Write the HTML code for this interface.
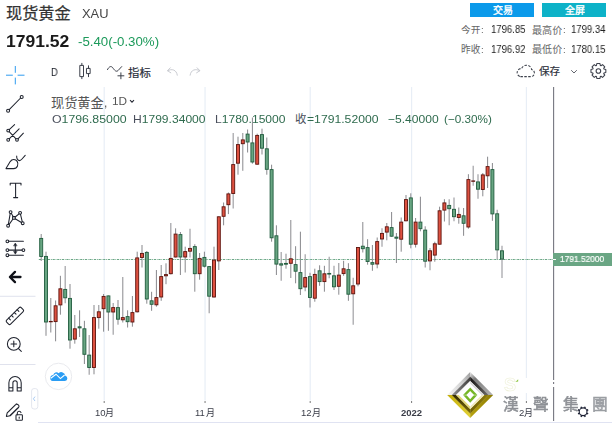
<!DOCTYPE html>
<html><head><meta charset="utf-8"><title>XAU chart</title>
<style>
html,body{margin:0;padding:0;background:#fff}
body{width:612px;height:423px;position:relative;overflow:hidden;font-family:"Liberation Sans","Noto Sans CJK SC",sans-serif}
.a{position:absolute;display:block}
.t{white-space:nowrap;transform-origin:0 50%;will-change:transform}
svg text{font-family:"Liberation Sans","Noto Sans CJK SC",sans-serif}
</style></head><body>
<svg class="a" style="left:0;top:0" width="612" height="423" viewBox="0 0 612 423"><line x1="104.2" y1="87" x2="104.2" y2="400.5" stroke="#e8eef6" stroke-width="1.2"/><line x1="104.2" y1="401" x2="104.2" y2="403" stroke="#555" stroke-width="0.8"/><line x1="205.05" y1="87" x2="205.05" y2="400.5" stroke="#e8eef6" stroke-width="1.2"/><line x1="205.05" y1="401" x2="205.05" y2="403" stroke="#555" stroke-width="0.8"/><line x1="310.2" y1="87" x2="310.2" y2="400.5" stroke="#e8eef6" stroke-width="1.2"/><line x1="310.2" y1="401" x2="310.2" y2="403" stroke="#555" stroke-width="0.8"/><line x1="411.6" y1="87" x2="411.6" y2="400.5" stroke="#e8eef6" stroke-width="1.2"/><line x1="411.6" y1="401" x2="411.6" y2="403" stroke="#555" stroke-width="0.8"/><line x1="526.4" y1="87" x2="526.4" y2="400.5" stroke="#e8eef6" stroke-width="1.2"/><line x1="526.4" y1="401" x2="526.4" y2="403" stroke="#555" stroke-width="0.8"/><line x1="38.8" y1="259.5" x2="553" y2="259.5" stroke="#5a9d78" stroke-width="0.9" stroke-dasharray="2.2 0.8 0.8 0.8"/><line x1="41.2" y1="234.0" x2="41.2" y2="261.0" stroke="#727277" stroke-width="0.85"/><line x1="46.0" y1="251.7" x2="46.0" y2="335.8" stroke="#727277" stroke-width="0.85"/><line x1="50.8" y1="298.0" x2="50.8" y2="332.5" stroke="#727277" stroke-width="0.85"/><line x1="55.6" y1="300.5" x2="55.6" y2="341.3" stroke="#727277" stroke-width="0.85"/><line x1="60.4" y1="275.8" x2="60.4" y2="314.7" stroke="#727277" stroke-width="0.85"/><line x1="65.2" y1="266.0" x2="65.2" y2="303.3" stroke="#a4a4a8" stroke-width="1.25"/><line x1="70.0" y1="284.0" x2="70.0" y2="348.7" stroke="#727277" stroke-width="0.85"/><line x1="74.8" y1="315.0" x2="74.8" y2="343.7" stroke="#727277" stroke-width="0.85"/><line x1="79.6" y1="310.3" x2="79.6" y2="337.0" stroke="#727277" stroke-width="0.85"/><line x1="84.4" y1="320.8" x2="84.4" y2="364.0" stroke="#727277" stroke-width="0.85"/><line x1="89.2" y1="335.0" x2="89.2" y2="374.7" stroke="#a4a4a8" stroke-width="1.25"/><line x1="94.0" y1="305.0" x2="94.0" y2="374.3" stroke="#727277" stroke-width="0.85"/><line x1="98.8" y1="305.0" x2="98.8" y2="328.7" stroke="#727277" stroke-width="0.85"/><line x1="103.6" y1="294.0" x2="103.6" y2="331.7" stroke="#727277" stroke-width="0.85"/><line x1="108.4" y1="295.5" x2="108.4" y2="330.8" stroke="#727277" stroke-width="0.85"/><line x1="113.2" y1="303.0" x2="113.2" y2="334.7" stroke="#a4a4a8" stroke-width="1.25"/><line x1="118.0" y1="300.0" x2="118.0" y2="324.7" stroke="#727277" stroke-width="0.85"/><line x1="122.8" y1="277.0" x2="122.8" y2="322.5" stroke="#727277" stroke-width="0.85"/><line x1="127.6" y1="310.3" x2="127.6" y2="327.5" stroke="#727277" stroke-width="0.85"/><line x1="132.4" y1="296.0" x2="132.4" y2="326.7" stroke="#727277" stroke-width="0.85"/><line x1="137.2" y1="251.7" x2="137.2" y2="312.5" stroke="#727277" stroke-width="0.85"/><line x1="142.0" y1="245.0" x2="142.0" y2="267.5" stroke="#727277" stroke-width="0.85"/><line x1="146.8" y1="251.0" x2="146.8" y2="303.7" stroke="#727277" stroke-width="0.85"/><line x1="151.6" y1="291.8" x2="151.6" y2="310.8" stroke="#727277" stroke-width="0.85"/><line x1="156.4" y1="270.0" x2="156.4" y2="306.7" stroke="#727277" stroke-width="0.85"/><line x1="161.2" y1="265.0" x2="161.2" y2="300.8" stroke="#727277" stroke-width="0.85"/><line x1="166.0" y1="263.3" x2="166.0" y2="284.2" stroke="#727277" stroke-width="0.85"/><line x1="170.8" y1="223.0" x2="170.8" y2="274.5" stroke="#a4a4a8" stroke-width="1.25"/><line x1="175.6" y1="228.3" x2="175.6" y2="257.5" stroke="#727277" stroke-width="0.85"/><line x1="180.4" y1="232.0" x2="180.4" y2="275.0" stroke="#727277" stroke-width="0.85"/><line x1="185.2" y1="246.7" x2="185.2" y2="272.5" stroke="#727277" stroke-width="0.85"/><line x1="190.0" y1="228.7" x2="190.0" y2="257.5" stroke="#a4a4a8" stroke-width="1.25"/><line x1="194.8" y1="244.2" x2="194.8" y2="291.7" stroke="#727277" stroke-width="0.85"/><line x1="199.6" y1="253.0" x2="199.6" y2="279.7" stroke="#727277" stroke-width="0.85"/><line x1="204.4" y1="251.7" x2="204.4" y2="267.5" stroke="#727277" stroke-width="0.85"/><line x1="209.2" y1="266.0" x2="209.2" y2="313.3" stroke="#a4a4a8" stroke-width="1.25"/><line x1="214.0" y1="246.7" x2="214.0" y2="297.5" stroke="#727277" stroke-width="0.85"/><line x1="218.8" y1="216.3" x2="218.8" y2="270.0" stroke="#727277" stroke-width="0.85"/><line x1="223.6" y1="202.5" x2="223.6" y2="225.3" stroke="#727277" stroke-width="0.85"/><line x1="228.4" y1="192.5" x2="228.4" y2="214.1" stroke="#727277" stroke-width="0.85"/><line x1="233.2" y1="133.0" x2="233.2" y2="208.5" stroke="#a4a4a8" stroke-width="1.25"/><line x1="238.0" y1="136.7" x2="238.0" y2="174.7" stroke="#727277" stroke-width="0.85"/><line x1="242.8" y1="133.0" x2="242.8" y2="170.8" stroke="#727277" stroke-width="0.85"/><line x1="247.6" y1="129.5" x2="247.6" y2="152.5" stroke="#727277" stroke-width="0.85"/><line x1="252.4" y1="117.5" x2="252.4" y2="163.7" stroke="#727277" stroke-width="0.85"/><line x1="257.2" y1="133.7" x2="257.2" y2="164.7" stroke="#727277" stroke-width="0.85"/><line x1="262.0" y1="128.7" x2="262.0" y2="154.5" stroke="#727277" stroke-width="0.85"/><line x1="266.8" y1="137.5" x2="266.8" y2="174.7" stroke="#727277" stroke-width="0.85"/><line x1="271.6" y1="164.7" x2="271.6" y2="241.7" stroke="#727277" stroke-width="0.85"/><line x1="276.4" y1="225.3" x2="276.4" y2="275.0" stroke="#727277" stroke-width="0.85"/><line x1="281.2" y1="252.0" x2="281.2" y2="280.8" stroke="#a4a4a8" stroke-width="1.25"/><line x1="286.0" y1="253.7" x2="286.0" y2="268.7" stroke="#727277" stroke-width="0.85"/><line x1="290.8" y1="220.0" x2="290.8" y2="278.0" stroke="#727277" stroke-width="0.85"/><line x1="295.6" y1="246.2" x2="295.6" y2="283.3" stroke="#727277" stroke-width="0.85"/><line x1="300.4" y1="231.7" x2="300.4" y2="295.0" stroke="#727277" stroke-width="0.85"/><line x1="305.2" y1="254.2" x2="305.2" y2="291.3" stroke="#a4a4a8" stroke-width="1.25"/><line x1="310.0" y1="272.8" x2="310.0" y2="307.5" stroke="#727277" stroke-width="0.85"/><line x1="314.8" y1="268.7" x2="314.8" y2="301.7" stroke="#727277" stroke-width="0.85"/><line x1="319.6" y1="265.3" x2="319.6" y2="285.8" stroke="#727277" stroke-width="0.85"/><line x1="324.4" y1="265.8" x2="324.4" y2="291.7" stroke="#727277" stroke-width="0.85"/><line x1="329.2" y1="256.7" x2="329.2" y2="278.3" stroke="#a4a4a8" stroke-width="1.25"/><line x1="334.0" y1="265.8" x2="334.0" y2="290.0" stroke="#a4a4a8" stroke-width="1.25"/><line x1="338.8" y1="263.0" x2="338.8" y2="294.7" stroke="#727277" stroke-width="0.85"/><line x1="343.6" y1="260.8" x2="343.6" y2="275.8" stroke="#727277" stroke-width="0.85"/><line x1="348.4" y1="263.2" x2="348.4" y2="300.8" stroke="#727277" stroke-width="0.85"/><line x1="353.2" y1="277.7" x2="353.2" y2="324.7" stroke="#a4a4a8" stroke-width="1.25"/><line x1="358.0" y1="247.1" x2="358.0" y2="286.3" stroke="#727277" stroke-width="0.85"/><line x1="362.8" y1="222.0" x2="362.8" y2="252.5" stroke="#727277" stroke-width="0.85"/><line x1="367.6" y1="239.2" x2="367.6" y2="264.7" stroke="#727277" stroke-width="0.85"/><line x1="372.4" y1="245.0" x2="372.4" y2="270.8" stroke="#727277" stroke-width="0.85"/><line x1="377.2" y1="237.5" x2="377.2" y2="268.3" stroke="#727277" stroke-width="0.85"/><line x1="382.0" y1="228.3" x2="382.0" y2="246.7" stroke="#a4a4a8" stroke-width="1.25"/><line x1="386.8" y1="223.0" x2="386.8" y2="240.3" stroke="#727277" stroke-width="0.85"/><line x1="391.6" y1="212.0" x2="391.6" y2="236.7" stroke="#727277" stroke-width="0.85"/><line x1="396.4" y1="233.0" x2="396.4" y2="263.0" stroke="#727277" stroke-width="0.85"/><line x1="401.2" y1="217.5" x2="401.2" y2="251.7" stroke="#727277" stroke-width="0.85"/><line x1="406.0" y1="195.0" x2="406.0" y2="221.3" stroke="#727277" stroke-width="0.85"/><line x1="410.8" y1="193.3" x2="410.8" y2="248.3" stroke="#727277" stroke-width="0.85"/><line x1="415.6" y1="218.0" x2="415.6" y2="247.5" stroke="#727277" stroke-width="0.85"/><line x1="420.4" y1="196.7" x2="420.4" y2="231.3" stroke="#727277" stroke-width="0.85"/><line x1="425.2" y1="226.3" x2="425.2" y2="267.5" stroke="#727277" stroke-width="0.85"/><line x1="430.0" y1="248.0" x2="430.0" y2="270.3" stroke="#a4a4a8" stroke-width="1.25"/><line x1="434.8" y1="241.7" x2="434.8" y2="261.7" stroke="#727277" stroke-width="0.85"/><line x1="439.6" y1="206.7" x2="439.6" y2="244.6" stroke="#727277" stroke-width="0.85"/><line x1="444.4" y1="199.2" x2="444.4" y2="221.5" stroke="#727277" stroke-width="0.85"/><line x1="449.2" y1="199.2" x2="449.2" y2="225.3" stroke="#a4a4a8" stroke-width="1.25"/><line x1="454.0" y1="197.5" x2="454.0" y2="221.3" stroke="#a4a4a8" stroke-width="1.25"/><line x1="458.8" y1="207.5" x2="458.8" y2="223.7" stroke="#727277" stroke-width="0.85"/><line x1="463.6" y1="208.0" x2="463.6" y2="235.8" stroke="#727277" stroke-width="0.85"/><line x1="468.4" y1="174.2" x2="468.4" y2="228.7" stroke="#727277" stroke-width="0.85"/><line x1="473.2" y1="165.8" x2="473.2" y2="185.8" stroke="#a4a4a8" stroke-width="1.25"/><line x1="478.0" y1="174.2" x2="478.0" y2="198.7" stroke="#a4a4a8" stroke-width="1.25"/><line x1="482.8" y1="173.0" x2="482.8" y2="196.3" stroke="#727277" stroke-width="0.85"/><line x1="487.6" y1="156.7" x2="487.6" y2="188.0" stroke="#727277" stroke-width="0.85"/><line x1="492.4" y1="163.0" x2="492.4" y2="220.8" stroke="#727277" stroke-width="0.85"/><line x1="497.2" y1="209.7" x2="497.2" y2="259.2" stroke="#a4a4a8" stroke-width="1.25"/><line x1="502.0" y1="245.8" x2="502.0" y2="278.0" stroke="#a4a4a8" stroke-width="1.25"/><rect x="39.7" y="238.4" width="3.0" height="18.1" fill="#68a582" stroke="#215c3e" stroke-width="0.9"/><rect x="44.5" y="256.4" width="3.0" height="65.6" fill="#68a582" stroke="#215c3e" stroke-width="0.9"/><rect x="49.3" y="321.4" width="3.0" height="0.4" fill="#dd5140" stroke="#5c130d" stroke-width="0.9"/><rect x="54.1" y="305.8" width="3.0" height="15.8" fill="#dd5140" stroke="#5c130d" stroke-width="0.9"/><rect x="58.9" y="288.8" width="3.0" height="16.1" fill="#dd5140" stroke="#5c130d" stroke-width="0.9"/><rect x="63.7" y="289.4" width="3.0" height="8.4" fill="#68a582" stroke="#215c3e" stroke-width="0.9"/><rect x="68.5" y="298.4" width="3.0" height="41.6" fill="#68a582" stroke="#215c3e" stroke-width="0.9"/><rect x="73.3" y="328.8" width="3.0" height="10.3" fill="#dd5140" stroke="#5c130d" stroke-width="0.9"/><rect x="78.1" y="326.8" width="3.0" height="1.1" fill="#68a582" stroke="#215c3e" stroke-width="0.9"/><rect x="82.9" y="328.8" width="3.0" height="25.5" fill="#68a582" stroke="#215c3e" stroke-width="0.9"/><rect x="87.7" y="355.1" width="3.0" height="12.4" fill="#68a582" stroke="#215c3e" stroke-width="0.9"/><rect x="92.5" y="317.6" width="3.0" height="49.9" fill="#dd5140" stroke="#5c130d" stroke-width="0.9"/><rect x="97.3" y="311.8" width="3.0" height="5.8" fill="#dd5140" stroke="#5c130d" stroke-width="0.9"/><rect x="102.1" y="296.4" width="3.0" height="12.3" fill="#dd5140" stroke="#5c130d" stroke-width="0.9"/><rect x="106.9" y="295.9" width="3.0" height="16.1" fill="#68a582" stroke="#215c3e" stroke-width="0.9"/><rect x="111.7" y="307.6" width="3.0" height="4.4" fill="#dd5140" stroke="#5c130d" stroke-width="0.9"/><rect x="116.5" y="307.6" width="3.0" height="11.6" fill="#68a582" stroke="#215c3e" stroke-width="0.9"/><rect x="121.3" y="317.6" width="3.0" height="2.2" fill="#dd5140" stroke="#5c130d" stroke-width="0.9"/><rect x="126.1" y="316.6" width="3.0" height="5.1" fill="#68a582" stroke="#215c3e" stroke-width="0.9"/><rect x="130.9" y="312.6" width="3.0" height="9.4" fill="#dd5140" stroke="#5c130d" stroke-width="0.9"/><rect x="135.7" y="257.9" width="3.0" height="53.9" fill="#dd5140" stroke="#5c130d" stroke-width="0.9"/><rect x="140.5" y="253.4" width="3.0" height="4.1" fill="#dd5140" stroke="#5c130d" stroke-width="0.9"/><rect x="145.3" y="252.4" width="3.0" height="46.6" fill="#68a582" stroke="#215c3e" stroke-width="0.9"/><rect x="150.1" y="300.8" width="3.0" height="3.5" fill="#68a582" stroke="#215c3e" stroke-width="0.9"/><rect x="154.9" y="297.6" width="3.0" height="7.2" fill="#dd5140" stroke="#5c130d" stroke-width="0.9"/><rect x="159.7" y="276.6" width="3.0" height="20.4" fill="#dd5140" stroke="#5c130d" stroke-width="0.9"/><rect x="164.5" y="274.6" width="3.0" height="1.2" fill="#dd5140" stroke="#5c130d" stroke-width="0.9"/><rect x="169.3" y="258.4" width="3.0" height="15.3" fill="#dd5140" stroke="#5c130d" stroke-width="0.9"/><rect x="174.1" y="234.1" width="3.0" height="22.9" fill="#dd5140" stroke="#5c130d" stroke-width="0.9"/><rect x="178.9" y="234.6" width="3.0" height="22.4" fill="#68a582" stroke="#215c3e" stroke-width="0.9"/><rect x="183.7" y="251.6" width="3.0" height="5.4" fill="#dd5140" stroke="#5c130d" stroke-width="0.9"/><rect x="188.5" y="248.4" width="3.0" height="2.8" fill="#dd5140" stroke="#5c130d" stroke-width="0.9"/><rect x="193.3" y="246.6" width="3.0" height="27.1" fill="#68a582" stroke="#215c3e" stroke-width="0.9"/><rect x="198.1" y="258.4" width="3.0" height="15.3" fill="#dd5140" stroke="#5c130d" stroke-width="0.9"/><rect x="202.9" y="257.4" width="3.0" height="8.8" fill="#68a582" stroke="#215c3e" stroke-width="0.9"/><rect x="207.7" y="266.6" width="3.0" height="29.6" fill="#68a582" stroke="#215c3e" stroke-width="0.9"/><rect x="212.5" y="260.1" width="3.0" height="36.9" fill="#dd5140" stroke="#5c130d" stroke-width="0.9"/><rect x="217.3" y="216.8" width="3.0" height="44.1" fill="#dd5140" stroke="#5c130d" stroke-width="0.9"/><rect x="222.1" y="206.8" width="3.0" height="9.5" fill="#dd5140" stroke="#5c130d" stroke-width="0.9"/><rect x="226.9" y="193.9" width="3.0" height="10.8" fill="#dd5140" stroke="#5c130d" stroke-width="0.9"/><rect x="231.7" y="164.6" width="3.0" height="28.9" fill="#dd5140" stroke="#5c130d" stroke-width="0.9"/><rect x="236.5" y="144.6" width="3.0" height="18.6" fill="#dd5140" stroke="#5c130d" stroke-width="0.9"/><rect x="241.3" y="139.9" width="3.0" height="3.8" fill="#dd5140" stroke="#5c130d" stroke-width="0.9"/><rect x="246.1" y="134.1" width="3.0" height="7.9" fill="#68a582" stroke="#215c3e" stroke-width="0.9"/><rect x="250.9" y="142.9" width="3.0" height="19.1" fill="#68a582" stroke="#215c3e" stroke-width="0.9"/><rect x="255.7" y="135.4" width="3.0" height="28.8" fill="#dd5140" stroke="#5c130d" stroke-width="0.9"/><rect x="260.5" y="134.6" width="3.0" height="13.6" fill="#68a582" stroke="#215c3e" stroke-width="0.9"/><rect x="265.3" y="148.8" width="3.0" height="20.5" fill="#68a582" stroke="#215c3e" stroke-width="0.9"/><rect x="270.1" y="169.6" width="3.0" height="68.2" fill="#68a582" stroke="#215c3e" stroke-width="0.9"/><rect x="274.9" y="235.8" width="3.0" height="28.3" fill="#68a582" stroke="#215c3e" stroke-width="0.9"/><rect x="279.7" y="263.8" width="3.0" height="1.3" fill="#68a582" stroke="#215c3e" stroke-width="0.9"/><rect x="284.5" y="263.4" width="3.0" height="0.8" fill="#68a582" stroke="#215c3e" stroke-width="0.9"/><rect x="289.3" y="258.8" width="3.0" height="4.5" fill="#dd5140" stroke="#5c130d" stroke-width="0.9"/><rect x="294.1" y="264.6" width="3.0" height="6.6" fill="#68a582" stroke="#215c3e" stroke-width="0.9"/><rect x="298.9" y="272.6" width="3.0" height="16.1" fill="#68a582" stroke="#215c3e" stroke-width="0.9"/><rect x="303.7" y="277.6" width="3.0" height="9.4" fill="#dd5140" stroke="#5c130d" stroke-width="0.9"/><rect x="308.5" y="276.6" width="3.0" height="20.9" fill="#68a582" stroke="#215c3e" stroke-width="0.9"/><rect x="313.3" y="274.4" width="3.0" height="23.8" fill="#dd5140" stroke="#5c130d" stroke-width="0.9"/><rect x="318.1" y="270.8" width="3.0" height="10.8" fill="#68a582" stroke="#215c3e" stroke-width="0.9"/><rect x="322.9" y="273.8" width="3.0" height="7.8" fill="#dd5140" stroke="#5c130d" stroke-width="0.9"/><rect x="327.7" y="273.4" width="3.0" height="0.7" fill="#68a582" stroke="#215c3e" stroke-width="0.9"/><rect x="332.5" y="275.8" width="3.0" height="11.0" fill="#68a582" stroke="#215c3e" stroke-width="0.9"/><rect x="337.3" y="275.1" width="3.0" height="11.2" fill="#dd5140" stroke="#5c130d" stroke-width="0.9"/><rect x="342.1" y="268.8" width="3.0" height="4.8" fill="#dd5140" stroke="#5c130d" stroke-width="0.9"/><rect x="346.9" y="269.6" width="3.0" height="24.6" fill="#68a582" stroke="#215c3e" stroke-width="0.9"/><rect x="351.7" y="285.8" width="3.0" height="8.0" fill="#dd5140" stroke="#5c130d" stroke-width="0.9"/><rect x="356.5" y="247.5" width="3.0" height="36.5" fill="#dd5140" stroke="#5c130d" stroke-width="0.9"/><rect x="361.3" y="246.2" width="3.0" height="2.5" fill="#68a582" stroke="#215c3e" stroke-width="0.9"/><rect x="366.1" y="247.6" width="3.0" height="13.9" fill="#68a582" stroke="#215c3e" stroke-width="0.9"/><rect x="370.9" y="262.6" width="3.0" height="1.6" fill="#68a582" stroke="#215c3e" stroke-width="0.9"/><rect x="375.7" y="241.6" width="3.0" height="22.4" fill="#dd5140" stroke="#5c130d" stroke-width="0.9"/><rect x="380.5" y="233.4" width="3.0" height="5.6" fill="#dd5140" stroke="#5c130d" stroke-width="0.9"/><rect x="385.3" y="226.8" width="3.0" height="5.3" fill="#dd5140" stroke="#5c130d" stroke-width="0.9"/><rect x="390.1" y="227.6" width="3.0" height="8.6" fill="#68a582" stroke="#215c3e" stroke-width="0.9"/><rect x="394.9" y="237.1" width="3.0" height="1.1" fill="#68a582" stroke="#215c3e" stroke-width="0.9"/><rect x="399.7" y="222.1" width="3.0" height="17.1" fill="#dd5140" stroke="#5c130d" stroke-width="0.9"/><rect x="404.5" y="199.6" width="3.0" height="21.2" fill="#dd5140" stroke="#5c130d" stroke-width="0.9"/><rect x="409.3" y="197.9" width="3.0" height="46.3" fill="#68a582" stroke="#215c3e" stroke-width="0.9"/><rect x="414.1" y="222.1" width="3.0" height="22.1" fill="#dd5140" stroke="#5c130d" stroke-width="0.9"/><rect x="418.9" y="222.1" width="3.0" height="6.6" fill="#68a582" stroke="#215c3e" stroke-width="0.9"/><rect x="423.7" y="230.1" width="3.0" height="31.1" fill="#68a582" stroke="#215c3e" stroke-width="0.9"/><rect x="428.5" y="250.8" width="3.0" height="10.1" fill="#dd5140" stroke="#5c130d" stroke-width="0.9"/><rect x="433.3" y="243.8" width="3.0" height="11.3" fill="#dd5140" stroke="#5c130d" stroke-width="0.9"/><rect x="438.1" y="210.8" width="3.0" height="33.4" fill="#dd5140" stroke="#5c130d" stroke-width="0.9"/><rect x="442.9" y="202.9" width="3.0" height="7.2" fill="#dd5140" stroke="#5c130d" stroke-width="0.9"/><rect x="447.7" y="205.4" width="3.0" height="3.3" fill="#68a582" stroke="#215c3e" stroke-width="0.9"/><rect x="452.5" y="209.3" width="3.0" height="7.4" fill="#68a582" stroke="#215c3e" stroke-width="0.9"/><rect x="457.3" y="214.4" width="3.0" height="3.1" fill="#dd5140" stroke="#5c130d" stroke-width="0.9"/><rect x="462.1" y="215.8" width="3.0" height="7.5" fill="#68a582" stroke="#215c3e" stroke-width="0.9"/><rect x="466.9" y="179.6" width="3.0" height="47.4" fill="#dd5140" stroke="#5c130d" stroke-width="0.9"/><rect x="471.7" y="180.9" width="3.0" height="0.4" fill="#dd5140" stroke="#5c130d" stroke-width="0.9"/><rect x="476.5" y="181.9" width="3.0" height="7.3" fill="#68a582" stroke="#215c3e" stroke-width="0.9"/><rect x="481.3" y="174.9" width="3.0" height="14.6" fill="#dd5140" stroke="#5c130d" stroke-width="0.9"/><rect x="486.1" y="166.6" width="3.0" height="9.2" fill="#dd5140" stroke="#5c130d" stroke-width="0.9"/><rect x="490.9" y="169.6" width="3.0" height="44.3" fill="#68a582" stroke="#215c3e" stroke-width="0.9"/><rect x="495.7" y="213.8" width="3.0" height="36.1" fill="#68a582" stroke="#215c3e" stroke-width="0.9"/><rect x="500.5" y="250.8" width="3.0" height="8.3" fill="#68a582" stroke="#215c3e" stroke-width="0.9"/><line x1="553.6" y1="87" x2="553.6" y2="421" stroke="#75767f" stroke-width="1.1"/></svg>
<svg class="a" style="left:0;top:0" width="612" height="423" viewBox="0 0 612 423"><circle cx="58.5" cy="376.4" r="13.2" fill="#fff" stroke="#e3e5ea" stroke-width="0.8"/><path d="M52.6 381H65A2.7 2.7 0 0 0 65.3 375.7A4 4 0 0 0 58.6 373.2A3.1 3.1 0 0 0 53.3 374.9A3.1 3.1 0 0 0 52.6 381Z" fill="#2a9df4"/><path d="M50.8 378.2L56 374.2L60.4 378.6L64.6 375" fill="none" stroke="#fff" stroke-width="1.1"/></svg>
<svg class="a" style="left:0;top:0" width="612" height="423" viewBox="0 0 612 423"><path d="M6 75.2H12.8M17.6 75.2H24.5M15.3 66V72.8M15.3 77.6V84.4" stroke="#2f9bf0" stroke-width="1" fill="none"/><g fill="none" stroke="#1e222d" stroke-width="1.05" stroke-linecap="round" stroke-linejoin="round"><circle cx="8.1" cy="110.7" r="1.5"/><circle cx="21.7" cy="96.9" r="1.5"/><path d="M9.2 109.6L20.6 98"/></g><g fill="none" stroke="#1e222d" stroke-width="1.05" stroke-linecap="round" stroke-linejoin="round"><circle cx="8.2" cy="130.6" r="1.4"/><circle cx="8.2" cy="139.8" r="1.4"/><circle cx="17" cy="139.8" r="1.4"/><path d="M9.2 129.6L14.6 124.6M9.2 138.8L19.1 128.8M18 138.8L23.4 133.2M9.2 131.6L16 138.8"/></g><g fill="none" stroke="#1e222d" stroke-width="1.05" stroke-linecap="round" stroke-linejoin="round"><path d="M6 168.6L10.2 161.6C12 158.8 15.6 158.9 17.2 161.4C18.8 164 17.6 168.6 13.6 168.6Z"/><path d="M16.7 156.1C16.5 158.6 17.8 160.6 19.6 160.6C20.6 160.6 21.3 159.8 22 159L25.2 155.4"/></g><g fill="none" stroke="#1e222d" stroke-width="1.05" stroke-linecap="round" stroke-linejoin="round"><path d="M10.2 185V183.3H21V185M15.6 183.3V197.6M13.6 197.6H17.7"/></g><g fill="none" stroke="#1e222d" stroke-width="1.05" stroke-linecap="round" stroke-linejoin="round"><circle cx="10.6" cy="212.1" r="1.4"/><circle cx="20.1" cy="212.8" r="1.4"/><rect x="12.6" y="216.6" width="2.6" height="2.6"/><circle cx="8.1" cy="225.7" r="1.4"/><circle cx="22.7" cy="223.2" r="1.4"/><path d="M10.2 213.6L8.4 224.2M11.3 213.4L13.2 216.6M15.2 217L19 213.8M20.5 214.3L22.3 221.8M15.2 218.8L21.4 222.5M12.8 219.2L9 224.6"/></g><g fill="none" stroke="#1e222d" stroke-width="1.05" stroke-linecap="round" stroke-linejoin="round"><circle cx="7.4" cy="241.3" r="1.4"/><circle cx="7.4" cy="250.1" r="1.4"/><circle cx="7.4" cy="255.2" r="1.4"/><circle cx="23.4" cy="250.1" r="1.4"/><path d="M8.8 241.3H23.4M8.8 250.1H22M8.8 255.2H23.4M15.3 244.6V252.6"/><path d="M13.7 245.6L15.3 243L16.9 245.6ZM13.7 251.6L15.3 254.2L16.9 251.6Z" fill="#1e222d" stroke-width="0.5"/></g><path d="M20.5 277H10.8M15 271.9L9.9 277L15 282.1" fill="none" stroke="#0f1118" stroke-width="2.3" stroke-linecap="round" stroke-linejoin="round"/><path d="M0 296.3H35.5M0 364.5H35.5" stroke="#d8dbe9" stroke-width="0.8" fill="none"/><g fill="none" stroke="#1e222d" stroke-width="1.05" stroke-linecap="round" stroke-linejoin="round" transform="translate(14.9 315.9) rotate(-45)"><rect x="-10.3" y="-2.8" width="20.6" height="5.6" rx="1.4"/><path d="M-6 -2.8V-0.4M-2 -2.8V-0.4M2 -2.8V-0.4M6 -2.8V-0.4"/></g><g fill="none" stroke="#1e222d" stroke-width="1.05" stroke-linecap="round" stroke-linejoin="round"><circle cx="13.8" cy="343.9" r="6.4"/><path d="M11 343.9H16.6M13.8 341.1V346.7M18.5 348.6L21.3 351.4"/></g><g fill="none" stroke="#1e222d" stroke-width="1.05" stroke-linecap="round" stroke-linejoin="round"><path d="M8.9 390.9V382.7A6.15 6.15 0 0 1 21.2 382.7V390.9H17.2V382.8A2.15 2.15 0 0 0 12.9 382.8V390.9ZM8.9 387.7H12.9M17.2 387.7H21.2"/></g><g fill="none" stroke="#1e222d" stroke-width="1.05" stroke-linecap="round" stroke-linejoin="round"><path d="M6.4 416.4L7.2 412.9L15.6 404.6A1.6 1.6 0 0 1 17.9 404.6L18.5 405.2A1.6 1.6 0 0 1 18.5 407.5L10.2 415.8ZM8.6 411.6L16.4 403.9M9.6 416L17.8 408"/><rect x="16" y="414.8" width="6.4" height="5.4" rx="0.8" fill="#fff"/><path d="M17.3 414.8V413A1.9 1.9 0 0 1 21 412.6M19.2 417V418.2"/></g><rect x="31.6" y="388.6" width="6.2" height="20.4" rx="2.4" fill="#fff" stroke="#dcdfea" stroke-width="0.8"/><path d="M35 396.6L33.4 398.8L35 401" fill="none" stroke="#8fbdf0" stroke-width="0.8"/><g fill="none" stroke="#3c404b" stroke-width="1" stroke-linecap="round" stroke-linejoin="round"><path d="M81.85 63.3V65.4M81.85 76.6V78.7M88.5 65.8V68.4M88.5 73.6V76.7"/><rect x="80.2" y="65.4" width="3.3" height="11.2"/><rect x="86.85" y="68.4" width="3.3" height="5.2"/></g><g fill="none" stroke="#3c404b" stroke-width="1" stroke-linecap="round" stroke-linejoin="round"><path d="M107.5 69.6C109 66.4 111.2 65.6 112.8 67.8C114.4 70 116 72.4 118 70.6L121.7 66.6M120.9 72.8V78.8M117.9 75.8H123.9"/></g><g fill="none" stroke="#c3c5cc" stroke-width="0.9" stroke-linecap="round" stroke-linejoin="round"><path d="M167.8 70.7C171.6 68.4 176.6 69.6 177.3 75.2M170.3 67.8L167.5 70.7L170.8 72.8"/></g><g fill="none" stroke="#c3c5cc" stroke-width="0.9" stroke-linecap="round" stroke-linejoin="round"><path d="M199.6 70.7C195.8 68.4 190.8 69.6 190.1 75.2M197.1 67.8L199.9 70.7L196.6 72.8"/></g><path d="M520.4 76.6H531A3.6 3.6 0 0 0 531.6 69.5A5.2 5.2 0 0 0 521.6 68.6A4.05 4.05 0 0 0 520.4 76.6Z" fill="none" stroke="#3c404b" stroke-width="1.05" stroke-dasharray="2.5 1.4"/><path d="M571.2 70.2L574 73L576.8 70.2" fill="none" stroke="#50535e" stroke-width="0.9"/><path d="M130 100.2L132 102.2L134 100.2" fill="none" stroke="#2a2e39" stroke-width="1.1"/><path d="M605.83 69.42L605.83 72.58L603.98 72.91L603.70 73.59L604.78 75.14L602.54 77.38L600.99 76.30L600.31 76.58L599.98 78.43L596.82 78.43L596.49 76.58L595.81 76.30L594.26 77.38L592.02 75.14L593.10 73.59L592.82 72.91L590.97 72.58L590.97 69.42L592.82 69.09L593.10 68.41L592.02 66.86L594.26 64.62L595.81 65.70L596.49 65.42L596.82 63.57L599.98 63.57L600.31 65.42L600.99 65.70L602.54 64.62L604.78 66.86L603.70 68.41L603.98 69.09Z" fill="none" stroke="#3c404b" stroke-width="1.05" stroke-linejoin="round"/><circle cx="598.4" cy="71" r="2.3" fill="none" stroke="#3c404b" stroke-width="1.05"/><circle cx="583.1" cy="411.8" r="3.9" fill="#fff" stroke="#1c2033" stroke-width="1.15"/><path d="M586.98 413.41L588.18 413.90M584.71 415.68L585.20 416.88M581.49 415.68L581.00 416.88M579.22 413.41L578.02 413.90M579.22 410.19L578.02 409.70M581.49 407.92L581.00 406.72M584.71 407.92L585.20 406.72M586.98 410.19L588.18 409.70" stroke="#1c2033" stroke-width="1.5" fill="none"/></svg>
<svg class="a" style="left:0;top:0" width="612" height="423" viewBox="0 0 612 423"><defs><linearGradient id="fTL" x1="0" y1="1" x2="1" y2="0"><stop offset="0" stop-color="#f6f6f6"/><stop offset="0.6" stop-color="#d2d2d2"/><stop offset="1" stop-color="#9c9c9c"/></linearGradient><linearGradient id="fTR" x1="0" y1="0" x2="1" y2="1"><stop offset="0" stop-color="#e8e8e8"/><stop offset="0.25" stop-color="#7c7c7c"/><stop offset="1" stop-color="#b4b4b4"/></linearGradient><linearGradient id="fBL" x1="0" y1="0" x2="1" y2="1"><stop offset="0" stop-color="#c4ae08"/><stop offset="1" stop-color="#e2d238"/></linearGradient><linearGradient id="fBR" x1="0" y1="1" x2="1" y2="0"><stop offset="0" stop-color="#b8a410"/><stop offset="1" stop-color="#8e7c02"/></linearGradient><linearGradient id="dTL" x1="0" y1="1" x2="1" y2="0"><stop offset="0" stop-color="#8e8e8e"/><stop offset="1" stop-color="#3a3838"/></linearGradient><linearGradient id="dTR" x1="0" y1="0" x2="1" y2="1"><stop offset="0" stop-color="#121010"/><stop offset="1" stop-color="#6a6866"/></linearGradient><linearGradient id="dBL" x1="0" y1="0" x2="1" y2="1"><stop offset="0" stop-color="#2e2600"/><stop offset="1" stop-color="#7a6a06"/></linearGradient><linearGradient id="dBR" x1="0" y1="1" x2="1" y2="0"><stop offset="0" stop-color="#6e5e02"/><stop offset="1" stop-color="#8c7a0a"/></linearGradient></defs><path d="M447.20 395.10 L470.20 372.10 L470.20 376.90 L452.00 395.10 Z" fill="url(#fTL)"/><path d="M493.20 395.10 L470.20 372.10 L470.20 376.90 L488.40 395.10 Z" fill="url(#fTR)"/><path d="M447.20 395.10 L470.20 418.10 L470.20 413.30 L452.00 395.10 Z" fill="url(#fBL)"/><path d="M493.20 395.10 L470.20 418.10 L470.20 413.30 L488.40 395.10 Z" fill="url(#fBR)"/><path d="M451.80 395.10 L470.20 376.70 L470.20 381.10 L456.20 395.10 Z" fill="url(#dTL)"/><path d="M488.60 395.10 L470.20 376.70 L470.20 381.10 L484.20 395.10 Z" fill="url(#dTR)"/><path d="M451.80 395.10 L470.20 413.50 L470.20 409.10 L456.20 395.10 Z" fill="url(#dBL)"/><path d="M488.60 395.10 L470.20 413.50 L470.20 409.10 L484.20 395.10 Z" fill="url(#dBR)"/><path d="M456.00 395.10 L470.20 380.90 L470.20 384.10 L459.20 395.10 Z" fill="#fbfbfb"/><path d="M484.40 395.10 L470.20 380.90 L470.20 384.10 L481.20 395.10 Z" fill="#dadada"/><path d="M456.00 395.10 L470.20 409.30 L470.20 406.10 L459.20 395.10 Z" fill="#e4d878"/><path d="M484.40 395.10 L470.20 409.30 L470.20 406.10 L481.20 395.10 Z" fill="#efe8b8"/><path d="M458.8 395.1L470.2 383.7L481.6 395.1L470.2 406.5Z" fill="#fff"/><path d="M463 395.1L470.2 387.5L477.4 395.1L470.2 402.7Z" fill="#76b626"/><path d="M466.4 395.1L470.2 391L474 395.1L470.2 399.2Z" fill="#fff"/><path d="M462.8 395.1H477.6" stroke="#fff" stroke-width="0.45"/></svg>
<svg class="a" role="img" aria-label="现货黄金" style="left:5.8px;top:4.8px" width="64.8" height="16.2" viewBox="0 0 4000 1000" fill="#333" stroke="#333" stroke-width="14"><title>现货黄金</title><text x="0" y="880" font-size="1000">现货黄金</text></svg>
<div class="a t" style="left:81.6px;top:5.7px;height:17px;line-height:17px;font-size:12.4px;color:#444;font-weight:400;transform:scaleX(1.04);">XAU</div>
<div class="a t" style="left:6px;top:30.8px;height:22px;line-height:22px;font-size:16px;color:#1a1a1a;font-weight:700;transform:scaleX(1.095);">1791.52</div>
<div class="a t" style="left:78.2px;top:33.5px;height:17px;line-height:17px;font-size:12.4px;color:#1d9a5b;font-weight:400;transform:scaleX(1.07);">-5.40(-0.30%)</div>
<div class="a" style="left:470px;top:3px;width:64px;height:14px;background:#0b9aea"></div>
<div class="a" style="left:542px;top:3px;width:64px;height:14px;background:#0db2c8"></div>
<svg class="a" role="img" aria-label="交易" style="left:492.6px;top:4.9px" width="20" height="10" viewBox="0 0 2000 1000" fill="#fff" stroke="#fff" stroke-width="36"><title>交易</title><text x="0" y="880" font-size="1000">交易</text></svg>
<svg class="a" role="img" aria-label="全屏" style="left:564.8px;top:4.9px" width="20" height="10" viewBox="0 0 2000 1000" fill="#fff" stroke="#fff" stroke-width="36"><title>全屏</title><text x="0" y="880" font-size="1000">全屏</text></svg>
<svg class="a" role="img" aria-label="今开" style="left:461.2px;top:24.75px" width="19.4" height="9.7" viewBox="0 0 2000 1000" fill="#666"><title>今开</title><text x="0" y="880" font-size="1000">今开</text></svg>
<div class="a t" style="left:480.6px;top:23.1px;height:13px;line-height:13px;font-size:9.6px;color:#666;font-weight:400;">:</div>
<div class="a t" style="left:491px;top:22.3px;height:15px;line-height:15px;font-size:10.4px;color:#222;font-weight:400;transform:scaleX(0.92);">1796.85</div>
<svg class="a" role="img" aria-label="最高价" style="left:531.8px;top:24.55px" width="30.3" height="10.1" viewBox="0 0 3000 1000" fill="#666"><title>最高价</title><text x="0" y="880" font-size="1000">最高价</text></svg>
<div class="a t" style="left:563px;top:23.1px;height:13px;line-height:13px;font-size:9.6px;color:#666;font-weight:400;">:</div>
<div class="a t" style="left:571px;top:22.3px;height:15px;line-height:15px;font-size:10.4px;color:#222;font-weight:400;transform:scaleX(0.92);">1799.34</div>
<svg class="a" role="img" aria-label="昨收" style="left:461.2px;top:44.15px" width="19.4" height="9.7" viewBox="0 0 2000 1000" fill="#666"><title>昨收</title><text x="0" y="880" font-size="1000">昨收</text></svg>
<div class="a t" style="left:480.6px;top:42.5px;height:13px;line-height:13px;font-size:9.6px;color:#666;font-weight:400;">:</div>
<div class="a t" style="left:491px;top:41.7px;height:15px;line-height:15px;font-size:10.4px;color:#222;font-weight:400;transform:scaleX(0.92);">1796.92</div>
<svg class="a" role="img" aria-label="最低价" style="left:531.8px;top:43.95px" width="30.3" height="10.1" viewBox="0 0 3000 1000" fill="#666"><title>最低价</title><text x="0" y="880" font-size="1000">最低价</text></svg>
<div class="a t" style="left:563px;top:42.5px;height:13px;line-height:13px;font-size:9.6px;color:#666;font-weight:400;">:</div>
<div class="a t" style="left:571px;top:41.7px;height:15px;line-height:15px;font-size:10.4px;color:#222;font-weight:400;transform:scaleX(0.92);">1780.15</div>
<div class="a t" style="left:51.3px;top:65.9px;height:14px;line-height:14px;font-size:10px;color:#131722;font-weight:400;transform:scaleX(0.93);">D</div>
<svg class="a" role="img" aria-label="指标" style="left:127.8px;top:66.5px" width="22.8" height="11.4" viewBox="0 0 2000 1000" fill="#2a2e39" stroke="#2a2e39" stroke-width="16"><title>指标</title><text x="0" y="880" font-size="1000">指标</text></svg>
<svg class="a" role="img" aria-label="保存" style="left:539.4px;top:66.2px" width="21.2" height="10.6" viewBox="0 0 2000 1000" fill="#2a2e39" stroke="#2a2e39" stroke-width="16"><title>保存</title><text x="0" y="880" font-size="1000">保存</text></svg>
<svg class="a" role="img" aria-label="现货黄金" style="left:51.2px;top:95.8px" width="52.8" height="13.2" viewBox="0 0 4000 1000" fill="#555"><title>现货黄金</title><text x="0" y="880" font-size="1000">现货黄金</text></svg>
<div class="a t" style="left:103.6px;top:95.1px;height:17px;line-height:17px;font-size:12px;color:#555;font-weight:400;">,</div>
<div class="a t" style="left:111.8px;top:93.2px;height:17px;line-height:17px;font-size:11.8px;color:#555;font-weight:400;">1D</div>
<div class="a t" style="left:51.6px;top:111px;height:16px;line-height:16px;font-size:11.5px;color:#2f6b4e;font-weight:400;transform:scaleX(1.07);"><span style="color:#4a4f5c">O</span>1796.85000</div>
<div class="a t" style="left:133.4px;top:111px;height:16px;line-height:16px;font-size:11.5px;color:#2f6b4e;font-weight:400;transform:scaleX(1.05);"><span style="color:#4a4f5c">H</span>1799.34000</div>
<div class="a t" style="left:215.4px;top:111px;height:16px;line-height:16px;font-size:11.5px;color:#2f6b4e;font-weight:400;transform:scaleX(1.05);"><span style="color:#4a4f5c">L</span>1780.15000</div>
<svg class="a" role="img" aria-label="收" style="left:294.6px;top:112.8px" width="11.6" height="11.6" viewBox="0 0 1000 1000" fill="#4a4f5c"><title>收</title><text x="0" y="880" font-size="1000">收</text></svg>
<div class="a t" style="left:306.6px;top:111px;height:16px;line-height:16px;font-size:11.5px;color:#2f6b4e;font-weight:400;transform:scaleX(1.06);">=1791.52000</div>
<div class="a t" style="left:387.8px;top:111px;height:16px;line-height:16px;font-size:11.5px;color:#2f6b4e;font-weight:400;transform:scaleX(1.05);">&minus;5.40000</div>
<div class="a t" style="left:443.9px;top:111px;height:16px;line-height:16px;font-size:11.5px;color:#2f6b4e;font-weight:400;transform:scaleX(1.02);">(&minus;0.30%)</div>
<div class="a" style="left:553.1px;top:253px;width:58.9px;height:13px;background:#6aa684"></div>
<div class="a" style="left:553.1px;top:259px;width:3.2px;height:1px;background:#fff"></div>
<div class="a t" style="left:560.4px;top:253.2px;height:12px;line-height:12px;font-size:8.6px;color:#fff;font-weight:400;transform:scaleX(0.975);-webkit-text-stroke:0.2px #fff;">1791.52000</div>
<div class="a t" style="left:94.518px;top:406.1px;height:13px;line-height:13px;font-size:9.5px;color:#3a3d48;font-weight:400;">10</div><svg class="a" role="img" aria-label="月" style="left:105.282px;top:407.9px" width="9" height="9" viewBox="0 0 1000 1000" fill="#3a3d48"><title>月</title><text x="0" y="880" font-size="1000">月</text></svg>
<div class="a t" style="left:195.418px;top:406.1px;height:13px;line-height:13px;font-size:9.5px;color:#3a3d48;font-weight:400;">11</div><svg class="a" role="img" aria-label="月" style="left:206.182px;top:407.9px" width="9" height="9" viewBox="0 0 1000 1000" fill="#3a3d48"><title>月</title><text x="0" y="880" font-size="1000">月</text></svg>
<div class="a t" style="left:300.818px;top:406.1px;height:13px;line-height:13px;font-size:9.5px;color:#3a3d48;font-weight:400;">12</div><svg class="a" role="img" aria-label="月" style="left:311.582px;top:407.9px" width="9" height="9" viewBox="0 0 1000 1000" fill="#3a3d48"><title>月</title><text x="0" y="880" font-size="1000">月</text></svg>
<div class="a t" style="left:400.636px;top:406.1px;height:13px;line-height:13px;font-size:9.5px;color:#3a3d48;font-weight:700;">2022</div>
<div class="a t" style="left:518.859px;top:406.1px;height:13px;line-height:13px;font-size:9.5px;color:#3a3d48;font-weight:400;">2</div><svg class="a" role="img" aria-label="月" style="left:524.341px;top:407.9px" width="9" height="9" viewBox="0 0 1000 1000" fill="#3a3d48"><title>月</title><text x="0" y="880" font-size="1000">月</text></svg>
<div class="a" style="left:525px;top:378px;width:3px;height:15px;background:#fff"></div>
<div class="a" style="left:552px;top:380px;width:3px;height:2.2px;background:#fff"></div>
<div class="a" style="left:552px;top:384.4px;width:3px;height:2.2px;background:#fff"></div>
<svg class="a" role="img" aria-label="漢" style="left:503.3px;top:395.9px" width="15.8" height="15.8" viewBox="0 0 1000 1000" fill="#8d9095" stroke="#8d9095" stroke-width="34"><title>漢</title><text x="0" y="880" font-size="1000" style="font-family:'Liberation Sans','Noto Sans CJK TC',sans-serif">漢</text></svg>
<svg class="a" role="img" aria-label="聲" style="left:532.7px;top:395.9px" width="15.8" height="15.8" viewBox="0 0 1000 1000" fill="#8d9095" stroke="#8d9095" stroke-width="34"><title>聲</title><text x="0" y="880" font-size="1000" style="font-family:'Liberation Sans','Noto Sans CJK TC',sans-serif">聲</text></svg>
<svg class="a" role="img" aria-label="集" style="left:562.7px;top:395.9px" width="15.8" height="15.8" viewBox="0 0 1000 1000" fill="#8d9095" stroke="#8d9095" stroke-width="34"><title>集</title><text x="0" y="880" font-size="1000" style="font-family:'Liberation Sans','Noto Sans CJK TC',sans-serif">集</text></svg>
<svg class="a" role="img" aria-label="團" style="left:592.3px;top:395.9px" width="15.8" height="15.8" viewBox="0 0 1000 1000" fill="#9b9ea3" stroke="#9b9ea3" stroke-width="34"><title>團</title><text x="0" y="880" font-size="1000" style="font-family:'Liberation Sans','Noto Sans CJK TC',sans-serif">團</text></svg>
<div class="a t" style="left:503.6px;top:372.9px;height:25px;line-height:25px;font-size:18px;color:#fff;font-weight:700;-webkit-text-stroke:0.6px #eef0d8;">S</div>
<svg class="a" style="left:515px;top:379px" width="4" height="4" viewBox="0 0 4 4"><path d="M0.4 3L3.2 0.2V2.4Z" fill="#8cc63f"/></svg>
<div class="a" style="left:38px;top:421.7px;width:574px;height:1.3px;background:#e0e3f2"></div>
</body></html>
